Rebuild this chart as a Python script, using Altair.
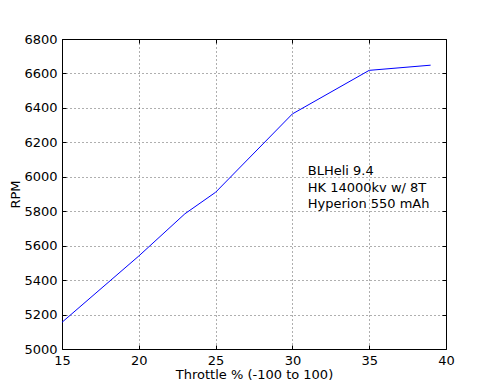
import altair as alt
import pandas as pd

throttle = [15, 20, 23, 25, 30, 35, 39]
rpm = [5155, 5540, 5785, 5910, 6365, 6618, 6648]

note_x = [31]
note_y = [6010]
note_text = ["BLHeli 9.4\nHK 14000kv w/ 8T\nHyperion 550 mAh"]

x_ticks = [15, 20, 25, 30, 35, 40]
y_ticks = [5000, 5200, 5400, 5600, 5800, 6000, 6200, 6400, 6600, 6800]

df = pd.DataFrame({"throttle": throttle, "rpm": rpm})
note = pd.DataFrame({"x": note_x, "y": note_y, "t": note_text})

FONT = "DejaVu Sans"
xs = alt.Scale(domain=[15, 40], nice=False, zero=False)
ys = alt.Scale(domain=[5000, 6800], nice=False, zero=False)

base_axis = dict(
    domain=False, tickColor="black", tickSize=4, tickWidth=1, offset=-4,
    labelFont=FONT, labelFontSize=13, labelColor="black", format="d",
)
title_axis = dict(titleFont=FONT, titleFontSize=13, titleColor="black", titleFontWeight="normal")

line = alt.Chart(df).mark_line(color="#0000ff", strokeWidth=1).encode(
    x=alt.X("throttle:Q", scale=xs, title="Throttle % (-100 to 100)",
            axis=alt.Axis(orient="bottom", values=x_ticks, grid=True, gridColor="black",
                          gridDash=[1, 3], gridWidth=0.7, gridOpacity=0.9,
                          labelPadding=5, titlePadding=1, labelFlush=False,
                          **base_axis, **title_axis)),
    y=alt.Y("rpm:Q", scale=ys, title="RPM",
            axis=alt.Axis(orient="left", values=y_ticks, grid=True, gridColor="black",
                          gridDash=[1, 3], gridWidth=0.7, gridOpacity=0.9,
                          labelPadding=5, titlePadding=1, labelFlush=False,
                          **base_axis, **title_axis)),
)

txt = alt.Chart(note).mark_text(
    align="left", baseline="alphabetic", font=FONT, fontSize=13, color="black",
    lineBreak="\n", lineHeight=16.5,
).encode(
    x=alt.X("x:Q", scale=xs, axis=alt.Axis(orient="top", values=x_ticks, labels=False,
                                             title=None, grid=False, **base_axis)),
    y=alt.Y("y:Q", scale=ys, axis=alt.Axis(orient="right", values=y_ticks, labels=False,
                                             title=None, grid=False, **base_axis)),
    text="t:N",
)

chart = alt.layer(line, txt).resolve_scale(x="independent", y="independent").resolve_axis(
    x="independent", y="independent"
).properties(
    width=384, height=310,
    autosize=alt.AutoSizeParams(type="none"),
    padding={"left": 54, "top": 31, "right": 41, "bottom": 31},
    background="white",
).configure_view(stroke="black", strokeWidth=1)

chart.save("out.html", embed_options={"renderer": "svg", "actions": False})
